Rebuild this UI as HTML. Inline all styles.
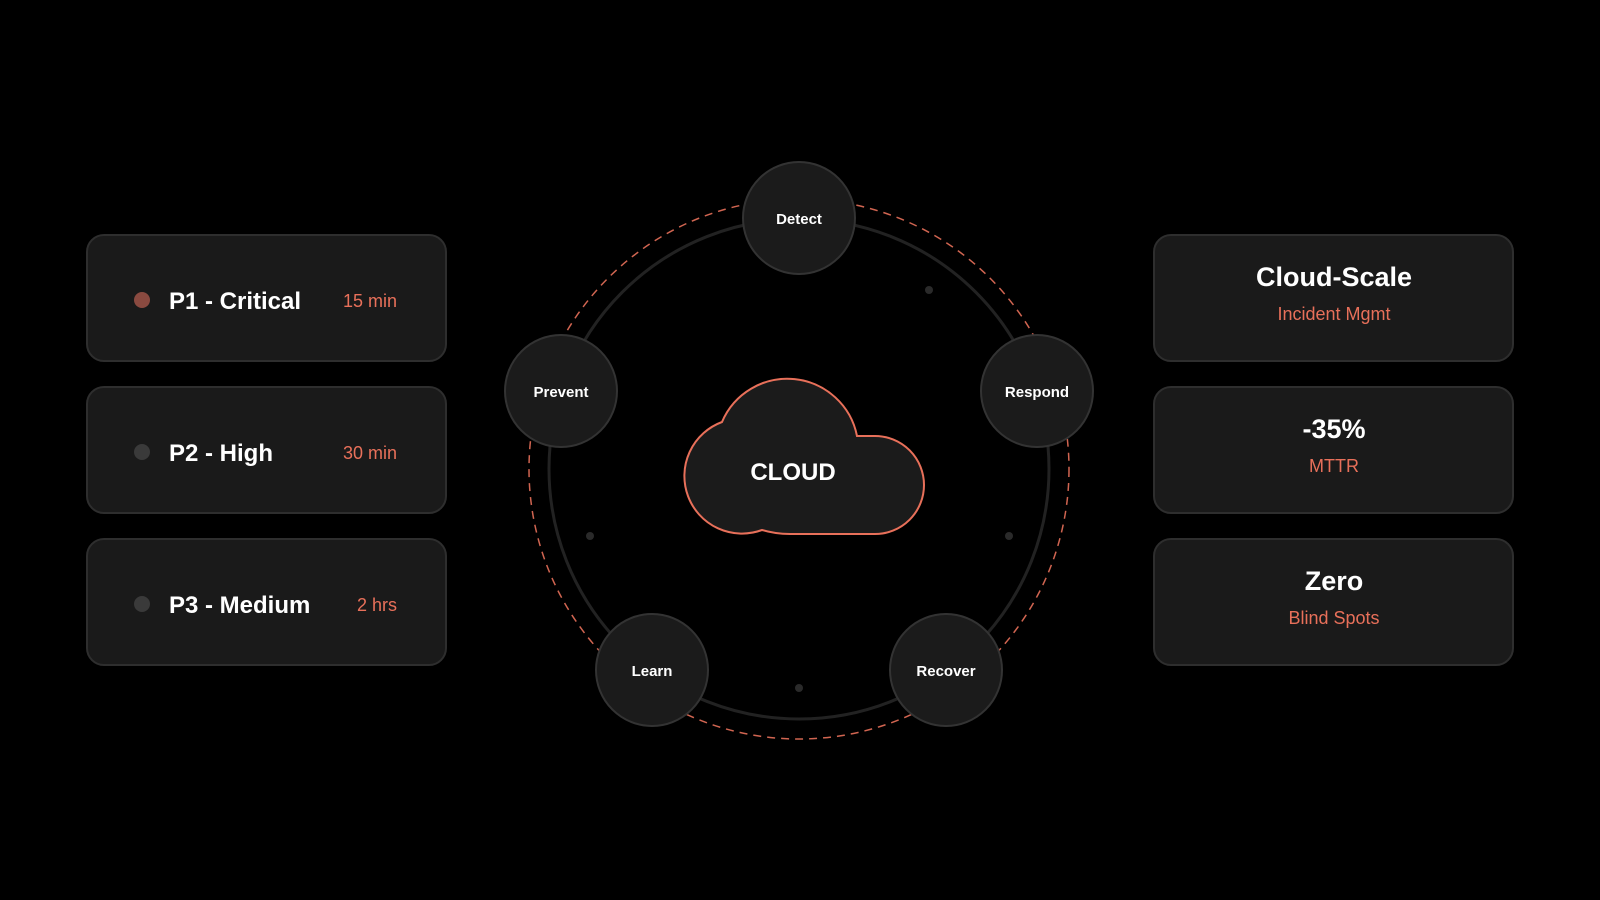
<!DOCTYPE html>
<html><head><meta charset="utf-8"><style>
html,body{margin:0;padding:0;background:#000;}
svg{display:block}
text{font-family:"Liberation Sans",sans-serif;}
</style></head><body>
<svg width="1600" height="900" viewBox="0 0 1600 900" xmlns="http://www.w3.org/2000/svg">
<rect width="1600" height="900" fill="#000"/>
<g>
<rect x="87" y="235" width="359" height="126" rx="17" fill="#1a1a1a" stroke="#2e2e2e" stroke-width="2"/>
<circle cx="142" cy="300" r="8" fill="#8a4a40"/>
<text x="169" y="309" font-size="24" font-weight="bold" fill="#fff">P1 - Critical</text>
<text x="397" y="307" font-size="18" fill="#e8705a" text-anchor="end">15 min</text>

<rect x="87" y="387" width="359" height="126" rx="17" fill="#1a1a1a" stroke="#2e2e2e" stroke-width="2"/>
<circle cx="142" cy="452" r="8" fill="#3a3a3a"/>
<text x="169" y="461" font-size="24" font-weight="bold" fill="#fff">P2 - High</text>
<text x="397" y="459" font-size="18" fill="#e8705a" text-anchor="end">30 min</text>

<rect x="87" y="539" width="359" height="126" rx="17" fill="#1a1a1a" stroke="#2e2e2e" stroke-width="2"/>
<circle cx="142" cy="604" r="8" fill="#3a3a3a"/>
<text x="169" y="613" font-size="24" font-weight="bold" fill="#fff">P3 - Medium</text>
<text x="397" y="611" font-size="18" fill="#e8705a" text-anchor="end">2 hrs</text>
</g>
<g text-anchor="middle">
<rect x="1154" y="235" width="359" height="126" rx="17" fill="#1a1a1a" stroke="#2e2e2e" stroke-width="2"/>
<text x="1334" y="286" font-size="27" font-weight="bold" fill="#fff">Cloud-Scale</text>
<text x="1334" y="320" font-size="18" fill="#e8705a">Incident Mgmt</text>

<rect x="1154" y="387" width="359" height="126" rx="17" fill="#1a1a1a" stroke="#2e2e2e" stroke-width="2"/>
<text x="1334" y="438" font-size="27" font-weight="bold" fill="#fff">-35%</text>
<text x="1334" y="472" font-size="18" fill="#e8705a">MTTR</text>

<rect x="1154" y="539" width="359" height="126" rx="17" fill="#1a1a1a" stroke="#2e2e2e" stroke-width="2"/>
<text x="1334" y="590" font-size="27" font-weight="bold" fill="#fff">Zero</text>
<text x="1334" y="624" font-size="18" fill="#e8705a">Blind Spots</text>
</g>
<circle cx="799" cy="469" r="270" fill="none" stroke="#e8705a" stroke-width="1.5" stroke-dasharray="8 6" opacity="0.9"/>
<circle cx="799" cy="469" r="250" fill="none" stroke="#222" stroke-width="3"/>
<g fill="#2a2a2a">
<circle cx="929" cy="290" r="4"/><circle cx="1009" cy="536" r="4"/><circle cx="799" cy="688" r="4"/><circle cx="590" cy="536" r="4"/>
</g>
<path d="M762 530 A57 57 0 1 1 722 422 A71 71 0 0 1 857 436 L875 436 A49 49 0 0 1 875 534 L790 534 Q775 534 762 530 Z" fill="#1b1b1b" stroke="#e8705a" stroke-width="2"/>
<text x="793" y="480" font-size="24" font-weight="bold" fill="#fff" text-anchor="middle">CLOUD</text>
<g text-anchor="middle" font-size="15" font-weight="bold">
<circle cx="799" cy="218" r="56" fill="#1b1b1b" stroke="#333" stroke-width="2"/>
<text x="799" y="224" fill="#fff">Detect</text>
<circle cx="1037" cy="391" r="56" fill="#1b1b1b" stroke="#333" stroke-width="2"/>
<text x="1037" y="397" fill="#fff">Respond</text>
<circle cx="946" cy="670" r="56" fill="#1b1b1b" stroke="#333" stroke-width="2"/>
<text x="946" y="676" fill="#fff">Recover</text>
<circle cx="652" cy="670" r="56" fill="#1b1b1b" stroke="#333" stroke-width="2"/>
<text x="652" y="676" fill="#fff">Learn</text>
<circle cx="561" cy="391" r="56" fill="#1b1b1b" stroke="#333" stroke-width="2"/>
<text x="561" y="397" fill="#fff">Prevent</text>
</g>
</svg>
</body></html>
